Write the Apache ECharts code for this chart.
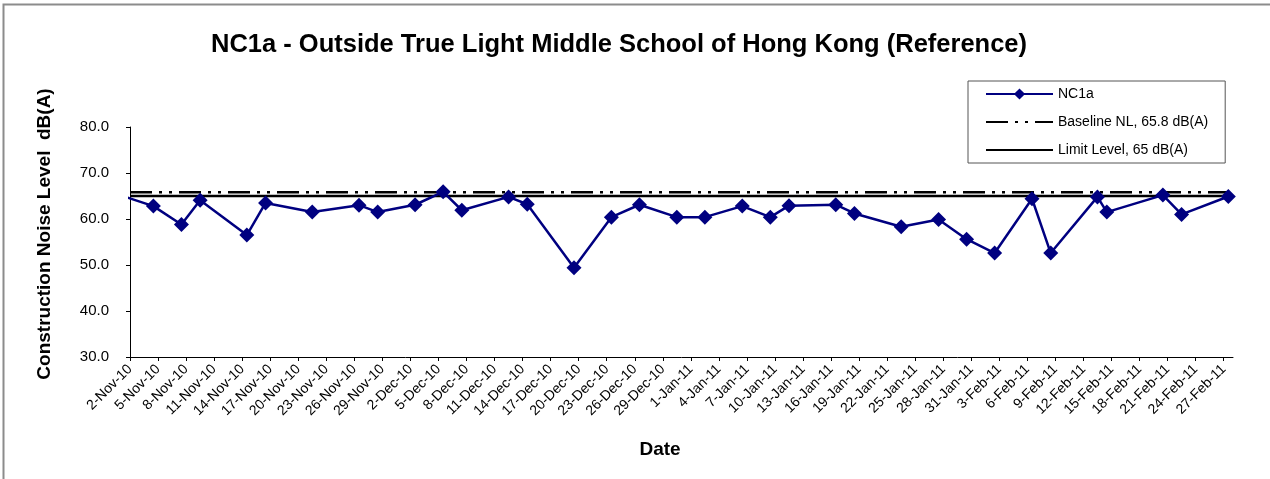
<!DOCTYPE html>
<html>
<head>
<meta charset="utf-8">
<script src="https://cdn.jsdelivr.net/npm/echarts@6/dist/echarts.min.js"></script>
<style>
  html, body { margin: 0; padding: 0; background: #fff; }
  #chart { width: 1270px; height: 479px; }
</style>
</head>
<body>
<div id="chart"></div>
<script>
// measurement dates and levels (NC1a)
var noiseDates = ['2010-11-01', '2010-11-04', '2010-11-07', '2010-11-09', '2010-11-14', '2010-11-16',
  '2010-11-21', '2010-11-26', '2010-11-28', '2010-12-02', '2010-12-05', '2010-12-07', '2010-12-12',
  '2010-12-14', '2010-12-19', '2010-12-23', '2010-12-26', '2010-12-30', '2011-01-02', '2011-01-06',
  '2011-01-09', '2011-01-11', '2011-01-16', '2011-01-18', '2011-01-23', '2011-01-27', '2011-01-30',
  '2011-02-02', '2011-02-06', '2011-02-08', '2011-02-13', '2011-02-14', '2011-02-20', '2011-02-22',
  '2011-02-27'];
var noiseLevels = [64.8, 62.8, 58.8, 64.1, 56.5, 63.5, 61.5, 63.0, 61.5, 63.1, 65.9, 61.9, 64.8,
  63.2, 49.4, 60.4, 63.1, 60.4, 60.4, 62.8, 60.4, 62.9, 63.1, 61.2, 58.3, 59.9, 55.6,
  52.6, 64.4, 52.6, 64.8, 61.5, 65.2, 61.0, 64.9];

var baselineLevel = 65.8;
var limitLevel = 65;

// date axis: starts 2-Nov-10, ends 28-Feb-11, labels every 3 days
var axisStart = '2010-11-02';
var axisEnd = '2011-02-28';
var tickLabels = ['2-Nov-10', '5-Nov-10', '8-Nov-10', '11-Nov-10', '14-Nov-10', '17-Nov-10', '20-Nov-10',
  '23-Nov-10', '26-Nov-10', '29-Nov-10', '2-Dec-10', '5-Dec-10', '8-Dec-10', '11-Dec-10', '14-Dec-10',
  '17-Dec-10', '20-Dec-10', '23-Dec-10', '26-Dec-10', '29-Dec-10', '1-Jan-11', '4-Jan-11', '7-Jan-11',
  '10-Jan-11', '13-Jan-11', '16-Jan-11', '19-Jan-11', '22-Jan-11', '25-Jan-11', '28-Jan-11', '31-Jan-11',
  '3-Feb-11', '6-Feb-11', '9-Feb-11', '12-Feb-11', '15-Feb-11', '18-Feb-11', '21-Feb-11', '24-Feb-11',
  '27-Feb-11'];
var yTicks = [30, 40, 50, 60, 70, 80];

function dayOffset(s) {
  var p = s.split('-');
  var t = Date.UTC(+p[0], +p[1] - 1, +p[2]);
  var a = axisStart.split('-');
  return (t - Date.UTC(+a[0], +a[1] - 1, +a[2])) / 86400000;
}

var xMax = dayOffset(axisEnd);
var tickPos = tickLabels.map(function (_, i) { return i * 3; });
// excel puts the point in the middle of its day
var nc1aData = noiseDates.map(function (d, i) { return [dayOffset(d) + 0.5, noiseLevels[i]]; });

var font = 'Arial, "Liberation Sans", sans-serif';
var noSymbol = { color: 'rgba(0,0,0,0)', borderWidth: 0 };
var chart = echarts.init(document.getElementById('chart'));
chart.setOption({
  animation: false,
  backgroundColor: '#fff',
  title: {
    text: 'NC1a - Outside True Light Middle School of Hong Kong (Reference)',
    left: 211,
    top: 32,
    padding: 0,
    textStyle: { fontFamily: font, fontSize: 25.5, fontWeight: 'bold', color: '#000' }
  },
  legend: {
    orient: 'vertical',
    left: 968,
    top: 81,
    padding: [6, 17, 6, 17],
    itemGap: 14,
    itemWidth: 67,
    itemHeight: 14,
    borderColor: '#555',
    borderWidth: 1,
    textStyle: { fontFamily: font, fontSize: 14, color: '#000' },
    data: [
      { name: 'NC1a' },
      { name: 'Baseline NL, 65.8 dB(A)', itemStyle: noSymbol },
      { name: 'Limit Level, 65 dB(A)', itemStyle: noSymbol }
    ]
  },
  grid: { left: 130, top: 127, right: 37, bottom: 122 },
  xAxis: {
    type: 'value',
    min: 0,
    max: xMax,
    splitLine: { show: false },
    axisLine: { lineStyle: { color: '#000', width: 1 } },
    axisTick: { customValues: tickPos, length: 4, lineStyle: { color: '#000' } },
    axisLabel: {
      customValues: tickPos,
      rotate: 45,
      margin: 10,
      fontFamily: font,
      fontSize: 14,
      color: '#000',
      formatter: function (v) { return tickLabels[Math.round(v / 3)]; }
    }
  },
  yAxis: {
    type: 'value',
    min: yTicks[0],
    max: yTicks[yTicks.length - 1],
    interval: 10,
    splitLine: { show: false },
    axisLine: { show: true, lineStyle: { color: '#000', width: 1 } },
    axisTick: { show: true, length: 4, lineStyle: { color: '#000' } },
    axisLabel: {
      margin: 21,
      fontFamily: font,
      fontSize: 15,
      color: '#000',
      formatter: function (v) { return v.toFixed(1); }
    }
  },
  series: [
    {
      name: 'NC1a',
      type: 'line',
      z: 5,
      data: nc1aData,
      symbol: 'diamond',
      symbolSize: 15,
      clip: true,
      lineStyle: { color: '#000080', width: 2.5 },
      itemStyle: { color: '#000080' }
    },
    {
      name: 'Baseline NL, 65.8 dB(A)',
      type: 'line',
      z: 3,
      symbol: 'none',
      data: [[0, baselineLevel], [xMax, baselineLevel]],
      lineStyle: { color: '#000', width: 2.5, type: [22, 7, 3, 7, 3, 7] },
      itemStyle: { color: '#000' }
    },
    {
      name: 'Limit Level, 65 dB(A)',
      type: 'line',
      z: 3,
      symbol: 'none',
      data: [[0, limitLevel], [xMax, limitLevel]],
      lineStyle: { color: '#000', width: 2.5 },
      itemStyle: { color: '#000' }
    }
  ],
  graphic: [
    {
      type: 'polyline',
      silent: true,
      shape: { points: [[3.5, 479], [3.5, 4.5], [1270, 4.5]] },
      style: { stroke: '#8c8c8c', lineWidth: 2, fill: null }
    },
    {
      type: 'text',
      x: 45,
      y: 234,
      rotation: Math.PI / 2,
      style: {
        text: 'Construction Noise Level  dB(A)',
        font: 'bold 19px ' + font,
        fill: '#000',
        textAlign: 'center',
        textVerticalAlign: 'middle'
      }
    },
    {
      type: 'text',
      x: 660,
      y: 450,
      style: {
        text: 'Date',
        font: 'bold 19px ' + font,
        fill: '#000',
        textAlign: 'center',
        textVerticalAlign: 'middle'
      }
    }
  ]
});
</script>
</body>
</html>
